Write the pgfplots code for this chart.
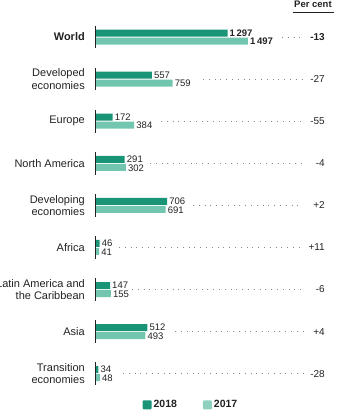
\documentclass[border=0pt]{standalone}
\usepackage{pgfplots}
\usepackage{pgfplotstable}
\pgfplotsset{compat=1.18}
\usepackage{fontspec}
\setmainfont{Liberation Sans}
\definecolor{cA}{HTML}{199477}
\definecolor{cB}{HTML}{72C6AF}
\definecolor{cBl}{HTML}{8ED1BE}
\definecolor{txt}{HTML}{222222}
\definecolor{dots}{HTML}{8A8A8A}

\pgfplotstableread{
y a b la lb
0 1297 1497 {\textbf{1\,297}} {\textbf{1\,497}}
1 557 759 557 759
2 172 384 172 384
3 291 302 291 302
4 706 691 706 691
5 46 41 46 41
6 147 155 147 155
7 512 493 512 493
8 34 48 34 48
}\vals

\pgfplotstableread{
y px pl
0 2250 {\textbf{-13}}
1 2250 -27
2 2250 -55
3 2250 -4
4 2250 +2
5 2250 +11
6 2250 -6
7 2250 +4
8 2250 -28
}\pct

\pgfplotstableread{
x y
1830 0
2035 0
nan nan
1057 1
2035 1
nan nan
646 2
2035 2
nan nan
538 3
2035 3
nan nan
959 4
2035 4
nan nan
235 5
2035 5
nan nan
362 6
2035 6
nan nan
783 7
2035 7
nan nan
274 8
2035 8
}\dotlines

\pgfplotstableread{
x y
0 -0.27
0 0.27
nan nan
0 0.73
0 1.27
nan nan
0 1.73
0 2.27
nan nan
0 2.73
0 3.27
nan nan
0 3.73
0 4.27
nan nan
0 4.73
0 5.27
nan nan
0 5.73
0 6.27
nan nan
0 6.73
0 7.27
nan nan
0 7.73
0 8.27
}\axsegs

\begin{document}
\begin{tikzpicture}
\begin{axis}[
  at={(95pt,0pt)}, anchor=south west,
  scale only axis, width=257pt, height=417pt,
  xmin=0, xmax=2515, ymin=-0.88, ymax=9.03, y dir=reverse,
  axis x line=none, axis y line*=left, y axis line style={draw=none},
  ytick={0,...,8}, major tick length=0pt,
  yticklabels={\textbf{World}, Developed\\economies, Europe, North America, Developing\\economies, Africa, Latin America and\\the Caribbean, Asia, Transition\\economies},
  yticklabel style={align=right, font=\fontsize{11}{12.5}\selectfont, inner sep=0pt, xshift=-10pt, text=txt},
  clip=false,
  unbounded coords=jump,
  legend style={at={(axis cs:939,8.74)}, anchor=center, draw=none, fill=none,
    legend columns=2, font=\fontsize{10.5}{12}\selectfont\bfseries,
    /tikz/every even column/.style={column sep=24pt},
    nodes={inner sep=2pt, text=txt}},
]
\addplot[xbar, bar width=7pt, fill=cA, draw=none, bar shift=4pt,
  nodes near coords, point meta=explicit symbolic,
  every node near coord/.style={anchor=west, inner xsep=2pt, inner ysep=1pt, yshift=4pt, font=\fontsize{9.5}{10}\selectfont, text=txt},
  legend image code/.code={\fill[cA, rounded corners=1pt] (0pt,-4.5pt) rectangle (9pt,4.5pt);}]
  table[x=a, y=y, meta=la] {\vals};
\addlegendentry{2018}
\addplot[xbar, bar width=7pt, fill=cB, draw=none, bar shift=-4pt,
  nodes near coords, point meta=explicit symbolic,
  every node near coord/.style={anchor=west, inner xsep=2pt, inner ysep=1pt, yshift=-4.5pt, font=\fontsize{9.5}{10}\selectfont, text=txt},
  legend image code/.code={\fill[cBl, rounded corners=1pt] (0pt,-4.5pt) rectangle (9pt,4.5pt);}]
  table[x=b, y=y, meta=lb] {\vals};
\addlegendentry{2017}
\addplot[forget plot, dots, line width=1pt, dash pattern=on 1pt off 4.8pt] table[x=x, y=y] {\dotlines};
\addplot[forget plot, txt, line width=0.8pt] table[x=x, y=y] {\axsegs};
\addplot[forget plot, draw=none, mark=none, nodes near coords, point meta=explicit symbolic,
  every node near coord/.style={anchor=east, inner sep=0pt, font=\fontsize{10}{11}\selectfont, text=txt}]
  table[x=px, y=y, meta=pl] {\pct};
\node[font=\bfseries\fontsize{9.5}{11}\selectfont, text=txt, anchor=base] at (axis cs:2133,-0.69) {Per cent};
\draw[txt, line width=0.8pt] (axis cs:1937,-0.594) -- (axis cs:2338,-0.594);
\end{axis}
\pgfresetboundingbox
\path[use as bounding box] (0,0) rectangle (352pt,417pt);
\end{tikzpicture}
\end{document}
